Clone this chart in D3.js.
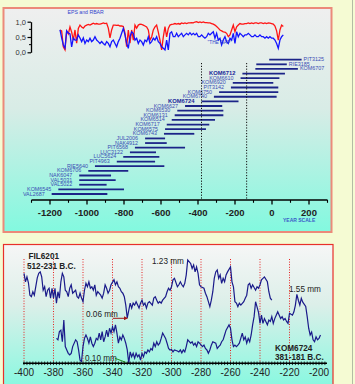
<!DOCTYPE html>
<html><head><meta charset="utf-8">
<script src="https://cdn.jsdelivr.net/npm/d3@7"></script>
<style>
html,body{margin:0;padding:0;background:#f5fbd3;overflow:hidden;}
svg{display:block;font-family:"Liberation Sans",Arial,sans-serif;}
</style></head><body>
<script>
// ---- top strip: EPS and RBAR, read at even steps between the span years
const epsSpan = [-1146, 61];
const epsValues = [0.73,0.70,0.18,0.08,0.70,0.60,0.83,0.66,0.40,0.73,0.30,0.78,0.89,0.83,0.79,0.86,0.89,0.91,0.89,0.92,0.95,0.92,0.94,0.92,0.92,0.94,0.96,0.94,0.95,0.79,0.47,0.73,0.89,0.89,0.88,0.89,0.86,0.86,0.84,0.63,0.18,0.73,0.30,0.73,0.40,0.89,0.79,0.89,0.92,0.91,0.89,0.86,0.83,0.73,0.40,0.50,0.73,0.83,0.89,0.66,0.40,0.08,0.50,0.84,0.50,0.78,0.89,0.91,0.92,0.94,0.92,0.94,0.92,0.96,0.94,0.96,0.94,0.96,0.96,0.97,0.96,0.99,1.0,0.97,0.99,0.97,0.99,0.97,0.97,0.96,0.96,0.94,0.92,0.89,0.84,0.79,0.73,0.70,0.67,0.66,0.62,0.51,0.57,0.73,0.89,0.67,0.83,0.89,0.94,0.92,0.92,0.94,0.94,0.96,0.94,0.96,0.94,0.96,0.96,0.94,0.96,0.96,0.94,0.96,0.94,0.96,0.95,0.94,0.92,0.86,0.70,0.40,0.73,0.89,0.84];
const rbarValues = [0.73,0.47,0.24,0.14,0.70,0.63,0.60,0.18,0.47,0.40,0.40,0.57,0.47,0.35,0.47,0.29,0.40,0.35,0.46,0.35,0.40,0.51,0.40,0.35,0.29,0.35,0.29,0.24,0.35,0.29,0.18,0.35,0.40,0.29,0.18,0.35,0.46,0.62,0.78,0.57,0.29,0.13,0.51,0.67,0.62,0.40,0.46,0.29,0.40,0.35,0.24,0.40,0.35,0.51,0.29,0.35,0.46,0.40,0.51,0.35,0.29,0.18,0.13,0.08,0.40,0.08,0.62,0.67,0.51,0.51,0.62,0.51,0.57,0.62,0.51,0.57,0.62,0.57,0.64,0.57,0.62,0.57,0.62,0.51,0.51,0.57,0.51,0.46,0.51,0.62,0.57,0.62,0.67,0.46,0.62,0.40,0.46,0.24,0.40,0.51,0.35,0.29,0.46,0.40,0.62,0.29,0.67,0.51,0.62,0.57,0.51,0.57,0.57,0.62,0.57,0.51,0.51,0.57,0.51,0.51,0.57,0.51,0.51,0.46,0.51,0.46,0.51,0.46,0.46,0.40,0.29,0.13,0.40,0.51,0.57];
const indexTicks = [0, 0.5, 1];

// ---- chronology bars (years, negative = B.C.)
const barNames = ['PIT3125','RIE3185','KOM6707','KOM6712','KOM6610','KOM6920','PIT3142','KOM6750','KOM6740','KOM6724','KOM6627','KOM6530','KOM6131','KOM6514','KOM6717','KOM6575','KOM6743','JUL2006','NAK4912','PIT6568','LUC3122','LUC5624','PIT4963','RIE5640','KOM6706','NAK6047','VAL5031','VAL5022','KOM6545','VAL2687'];
const barStart = [-15,-85,-90,-160,-170,-212,-222,-286,-314,-381,-470,-512,-526,-542,-569,-578,-584,-686,-686,-741,-768,-804,-839,-957,-993,-1042,-1042,-1042,-1155,-1191];
const barEnd   = [160,80,140,70,40,7,34,34,25,-181,-269,-263,-263,-308,-339,-357,-420,-578,-569,-470,-627,-609,-632,-582,-777,-870,-845,-894,-800,-890];
const boldBars = ['KOM6712','KOM6724'];
const gapYears = [-381, -137];
const yearTicks = [-1200,-1000,-800,-600,-400,-200,0,200];
const yearMinor = [-1300,-1100,-900,-700,-500,-300,-100,100,300];

// ---- lower panel: ring widths (mm)
const filYears  = [-400,-399,-398,-397,-396,-395,-394,-393,-391,-390,-389,-388,-387,-386,-385,-384,-383,-382,-381,-380,-379,-378,-377,-376,-375,-374,-373,-372,-371,-370,-369,-368,-367,-365,-364,-363,-362,-361,-360,-359,-358,-357,-356,-355,-354,-353,-352,-351,-350,-348,-347,-346,-345,-344,-343,-342,-341,-339,-338,-337,-336,-335,-334,-333,-332,-331,-330,-328,-327,-326,-325,-324,-322,-321,-320,-319,-318,-317,-316,-315,-313,-312,-311,-310,-309,-308,-307,-306,-304,-303,-302,-301,-300,-299,-298,-296,-295,-294,-293,-292,-291,-290,-289,-287,-286,-285,-284,-283,-282,-281,-280,-278,-277,-276,-275,-274,-273,-272,-271,-270,-269,-268,-267,-266,-265,-264,-263,-262,-260,-259,-258,-257,-256,-255,-254,-253,-251,-250,-249,-248,-247,-246,-245,-243,-242,-241,-240,-239,-238,-237,-235,-234,-233,-232];
const filWidths = [0.96,0.79,0.89,0.77,0.52,0.49,0.59,0.52,0.87,0.96,0.99,0.89,0.62,0.69,0.49,0.62,0.66,0.46,0.66,0.46,0.66,0.36,0.59,0.46,0.79,0.96,0.89,0.62,0.59,0.49,0.66,0.73,0.56,0.62,0.49,0.46,0.56,0.46,0.39,0.62,0.76,0.69,0.79,0.66,0.69,0.62,0.73,0.52,0.59,0.52,0.46,0.56,0.73,0.66,0.56,0.62,0.73,0.83,0.73,0.79,0.69,0.66,0.59,0.56,0.49,0.32,0.06,0.36,0.26,0.36,0.32,0.39,0.26,0.36,0.42,0.32,0.36,0.26,0.36,0.39,0.32,0.46,0.49,0.42,0.36,0.39,0.36,0.42,0.49,0.59,0.66,0.62,0.69,0.83,0.86,0.69,0.73,0.79,0.73,0.69,0.76,0.93,1.23,1.16,1.06,1.13,0.99,1.09,0.96,0.73,0.69,0.66,0.56,0.49,0.39,0.29,0.42,0.59,0.86,0.99,1.03,0.86,0.93,0.76,0.86,0.79,0.93,0.99,1.09,0.79,0.69,0.39,0.36,0.29,0.36,0.32,0.39,0.46,0.52,0.73,0.76,0.66,0.73,0.62,0.69,0.66,0.73,0.83,0.86,0.89,0.79,0.59,0.46,0.42];
const komYears  = [-378,-377,-376,-375,-374,-373,-372,-371,-370,-369,-368,-367,-365,-364,-363,-362,-361,-360,-359,-358,-357,-356,-355,-354,-353,-352,-351,-350,-349,-348,-347,-346,-345,-344,-343,-342,-341,-340,-339,-338,-337,-336,-335,-334,-333,-332,-331,-330,-329,-328,-327,-326,-325,-324,-323,-322,-321,-320,-319,-318,-317,-316,-315,-314,-313,-312,-311,-310,-309,-308,-307,-306,-304,-303,-302,-301,-300,-299,-298,-296,-295,-294,-293,-292,-291,-290,-289,-287,-286,-285,-284,-283,-282,-281,-279,-278,-277,-276,-275,-274,-273,-272,-270,-269,-268,-267,-266,-265,-264,-263,-261,-260,-259,-258,-257,-256,-255,-254,-252,-251,-250,-249,-248,-247,-246,-245,-244,-243,-241,-240,-239,-238,-237,-235,-234,-233,-232,-231,-230,-229,-228,-226,-225,-224,-223,-222,-221,-220,-218,-217,-216,-215,-214,-213,-212,-211,-209,-208,-207,-206,-205,-204,-203,-202,-201,-200,-199];
const komWidths = [0.61,0.58,0.75,0.78,0.54,0.99,0.44,0.37,0.30,0.27,0.30,0.44,0.58,0.54,0.37,0.16,0.13,0.44,0.61,0.68,0.61,0.51,0.64,0.51,0.44,0.51,0.61,0.58,0.72,0.58,0.75,0.54,0.64,0.78,0.64,0.82,0.72,0.85,0.75,0.89,0.72,0.51,0.64,0.58,0.68,0.61,0.51,0.37,0.10,0.33,0.23,0.30,0.20,0.30,0.23,0.27,0.16,0.30,0.23,0.33,0.30,0.37,0.33,0.40,0.37,0.51,0.44,0.54,0.47,0.51,0.61,0.72,0.61,0.51,0.40,0.37,0.38,0.33,0.37,0.35,0.33,0.37,0.31,0.37,0.33,0.44,0.58,0.51,0.54,0.47,0.51,0.44,0.54,0.51,0.44,0.47,0.40,0.37,0.30,0.37,0.47,0.54,0.51,0.40,0.44,0.47,0.54,0.58,0.68,0.78,0.89,0.82,0.58,0.44,0.47,0.44,0.47,0.51,0.72,0.58,0.64,0.51,0.61,0.54,0.68,0.89,1.06,1.37,1.15,0.92,1.09,0.92,1.02,0.89,0.99,0.96,1.06,0.92,1.02,1.09,1.16,1.02,1.06,0.99,1.02,0.96,0.92,1.13,1.09,1.16,1.30,1.52,1.40,1.30,1.44,1.36,1.27,1.06,0.82,0.68,0.74,0.58,0.54,0.64,0.58,0.61,0.68];
const guideYears = [-400,-380,-360,-340,-320,-300,-280,-260,-240,-220];
const bottomTicks = [-400,-380,-360,-340,-320,-300,-280,-260,-240,-220,-200];

const svg = d3.select('body').append('svg').attr('width', 355).attr('height', 384);
const defs = svg.append('defs');
function grad(id, stops) {
    const g = defs.append('linearGradient').attr('id', id).attr('x1',0).attr('y1',0).attr('x2',0).attr('y2',1);
    stops.forEach(s => g.append('stop').attr('offset', s[0]).attr('stop-color', s[1]));
}
grad('gTop', [[0,'#efefef'],[0.45,'#d8ece6'],[1,'#82f9df']]);
grad('gBot', [[0,'#f6f6f6'],[0.4,'#dcefe9'],[1,'#80f9df']]);

svg.append('line').attr('x1',352.5).attr('x2',352.5).attr('y1',0).attr('y2',384).attr('stroke','#b3bca4').attr('stroke-width',1);

// panels
svg.append('rect').attr('x',3.5).attr('y',8).attr('width',328).attr('height',224)
    .attr('fill','url(#gTop)').attr('stroke','#ec8a7a').attr('stroke-width',2);
svg.append('rect').attr('x',3.5).attr('y',244.5).attr('width',329.5).attr('height',150)
    .attr('fill','url(#gBot)').attr('stroke','#e8302a').attr('stroke-width',1.2);

// ---------- top panel
const xTop = d3.scaleLinear().domain([-1200, 200]).range([50, 309]);
const yIdx = d3.scaleLinear().domain([0, 1]).range([52.3, 21.7]);

const yAx = svg.append('g').attr('transform','translate(31,0)')
    .call(d3.axisLeft(yIdx).tickValues(indexTicks).tickSize(3.5).tickSizeOuter(0)
        .tickFormat(d => d3.format('.1f')(d).replace('.', ',')));
yAx.select('.domain').attr('stroke','#000').attr('stroke-width',1.3);
yAx.selectAll('.tick line').attr('stroke','#000').attr('stroke-width',1.2);
yAx.selectAll('text').attr('font-size',7.5).attr('fill','#333').attr('x',-5).attr('font-family','"Liberation Sans",Arial,sans-serif');
yAx.selectAll('.minor').data([0.25,0.75]).enter().append('line')
    .attr('x1',-2).attr('x2',0).attr('y1',d=>yIdx(d)).attr('y2',d=>yIdx(d)).attr('stroke','#000');

svg.append('text').attr('x',67.5).attr('y',14).attr('font-size',5.2).attr('fill','#3344cc').text('EPS and RBAR');

const spanYear = (vals, span) => d3.scaleLinear().domain([0, vals.length - 1]).range(span);
const epsX = spanYear(epsValues, epsSpan), rbarX = spanYear(rbarValues, epsSpan);
svg.append('path').datum(epsValues)
    .attr('d', d3.line().x((d,i)=>xTop(epsX(i))).y(d=>yIdx(d)))
    .attr('fill','none').attr('stroke','#ff1414').attr('stroke-width',1.3);
svg.append('path').datum(rbarValues)
    .attr('d', d3.line().x((d,i)=>xTop(rbarX(i))).y(d=>yIdx(d)))
    .attr('fill','none').attr('stroke','#1414ff').attr('stroke-width',1.3);
svg.append('text').attr('x',207.5).attr('y',43.5).attr('font-size',4.8).attr('fill','#3344cc').text('"THE GAP"');

// bars
const yBar = d3.scalePoint().domain(barNames).range([59.7, 194]);
svg.append('g').selectAll('line').data(barNames).enter().append('line')
    .attr('x1',(d,i)=>xTop(barStart[i])).attr('x2',(d,i)=>xTop(barEnd[i]))
    .attr('y1',d=>yBar(d)).attr('y2',d=>yBar(d))
    .attr('stroke','#1c2488').attr('stroke-width',1.8);
svg.append('g').selectAll('text').data(barNames).enter().append('text')
    .attr('x',(d,i)=> i < 3 ? xTop(barEnd[i]) + 2 : xTop(barStart[i]) - 7)
    .attr('y',d=>yBar(d) + 1.5)
    .attr('text-anchor',(d,i)=> i < 3 ? 'start' : 'end')
    .attr('font-size',d=> boldBars.includes(d) ? 5.8 : 5.4)
    .attr('font-weight',d=> boldBars.includes(d) ? 'bold' : 'normal')
    .attr('fill',d=> boldBars.includes(d) ? '#1a2799' : '#3a4cb4')
    .text(d=>d);

// gap markers
svg.append('g').selectAll('line').data(gapYears).enter().append('line')
    .attr('x1',d=>xTop(d)).attr('x2',d=>xTop(d)).attr('y1',63).attr('y2',199)
    .attr('stroke','#111').attr('stroke-width',1).attr('stroke-dasharray','1.2,1.6');

// year axis
const xAx = svg.append('g').attr('transform','translate(0,200)');
xAx.append('line').attr('x1',xTop(-1300)).attr('x2',xTop(300)).attr('stroke','#000').attr('stroke-width',1.5);
xAx.selectAll('.maj').data(yearTicks).enter().append('line')
    .attr('x1',d=>xTop(d)).attr('x2',d=>xTop(d)).attr('y1',0).attr('y2',4.5).attr('stroke','#000').attr('stroke-width',1.3);
xAx.selectAll('.min').data(yearMinor).enter().append('line')
    .attr('x1',d=>xTop(d)).attr('x2',d=>xTop(d)).attr('y1',0).attr('y2',2.8).attr('stroke','#000').attr('stroke-width',1.1);
xAx.selectAll('text').data(yearTicks).enter().append('text')
    .attr('x',d=>xTop(d)).attr('y',15.5).attr('text-anchor','middle')
    .attr('font-size',9.5).attr('font-weight','bold').attr('fill','#222').text(d=>String(d));
svg.append('text').attr('x',283).attr('y',222).attr('font-size',5).attr('font-weight','bold').attr('fill','#3a5cc8').text('YEAR SCALE');

// ---------- bottom panel
const xBot = d3.scaleLinear().domain([-400, -200]).range([24, 319]);
const yFil = d3.scaleLinear().domain([0.06, 1.23]).range([318, 260]);
const yKom = d3.scaleLinear().domain([0.10, 1.55]).range([363, 293]);

svg.append('g').selectAll('line').data(guideYears).enter().append('line')
    .attr('x1',d=>xBot(d)).attr('x2',d=>xBot(d)).attr('y1',259).attr('y2',363)
    .attr('stroke','#e62020').attr('stroke-width',1).attr('stroke-dasharray','1,1.6');

svg.append('path').datum(filWidths)
    .attr('d', d3.line().x((d,i)=>xBot(filYears[i])).y(d=>yFil(d)))
    .attr('fill','none').attr('stroke','#1a1a8a').attr('stroke-width',1.2);
svg.append('path').datum(komWidths)
    .attr('d', d3.line().x((d,i)=>xBot(komYears[i])).y(d=>yKom(d)))
    .attr('fill','none').attr('stroke','#1a1a8a').attr('stroke-width',1.2);

const bAx = svg.append('g').attr('transform','translate(0,363.3)');
bAx.append('line').attr('x1',23).attr('x2',327).attr('stroke','#000').attr('stroke-width',1.5);
bAx.selectAll('.t').data(d3.range(-400, -194, 2)).enter().append('line')
    .attr('x1',d=>xBot(d)).attr('x2',d=>xBot(d)).attr('y1',-1.8).attr('y2',1.8)
    .attr('stroke','#000').attr('stroke-width',0.8);
bAx.selectAll('text').data(bottomTicks).enter().append('text')
    .attr('x',d=>xBot(d)).attr('y',13).attr('text-anchor','middle')
    .attr('font-size',10).attr('fill','#222').text(d=>String(d));

const label = (x, y, t, bold) => svg.append('text').attr('x',x).attr('y',y)
    .attr('font-size',8.2).attr('font-weight',bold ? 'bold' : 'normal').attr('fill','#222').text(t);
label(28.5, 258.5, 'FIL6201', true);
label(27, 268.5, '512-231 B.C.', true);
label(152, 264, '1.23 mm');
label(289, 292, '1.55 mm');
label(86, 316.5, '0.06 mm');
label(85, 360.5, '0.10 mm');
label(275, 351, 'KOM6724', true);
label(275, 359.5, '381-181 B.C.', true);

// arrows pointing at the minima
defs.append('marker').attr('id','ah').attr('viewBox','0 0 6 6').attr('refX',5).attr('refY',3)
    .attr('markerWidth',4).attr('markerHeight',4).attr('orient','auto')
    .append('path').attr('d','M0,0L6,3L0,6Z').attr('fill','#a01818');
svg.append('line').attr('x1',113).attr('x2',xBot(-330)).attr('y1',318.3).attr('y2',318.3)
    .attr('stroke','#a01818').attr('stroke-width',1).attr('marker-end','url(#ah)');
svg.append('line').attr('x1',115).attr('y1',358.3).attr('x2',xBot(-331)).attr('y2',362.3)
    .attr('stroke','#1f8a1f').attr('stroke-width',1);
</script>
</body></html>
